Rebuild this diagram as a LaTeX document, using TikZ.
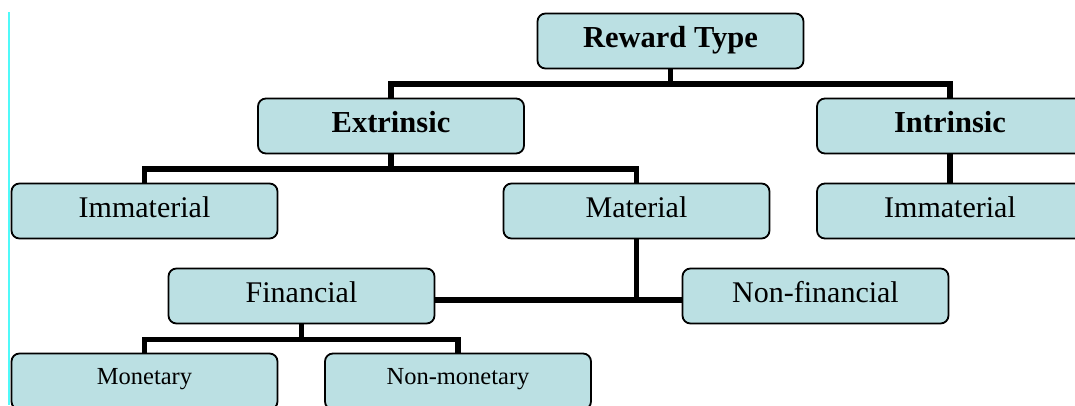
\documentclass[tikz,border=0pt]{standalone}
\usepackage{fontspec}
\setmainfont{Liberation Serif}
\definecolor{boxfill}{RGB}{187,224,227}
\definecolor{guide}{RGB}{80,250,250}
\begin{document}
\begin{tikzpicture}[x=1pt,y=-1pt,
  box/.style={draw=black, line width=1.8pt, fill=boxfill, rounded corners=8pt,
    minimum width=266pt, minimum height=55pt, inner sep=0pt,
    text height=21pt, text depth=8pt, font=\fontsize{30}{36}\selectfont},
  hbox/.style={box, font=\fontsize{30.5}{36}\selectfont\bfseries},
  sbox/.style={box, minimum height=56pt, text height=13pt, text depth=7pt,
    font=\fontsize{24.5}{29}\selectfont},
  conn/.style={line width=5.3pt, line join=miter}]
\useasboundingbox (0,0) rectangle (1075,405);
\clip (0,0) rectangle (1075,405);
\draw[guide, line width=1.5pt] (9,12) -- (9,405);

\node[hbox] (reward) at (670.5,41) {Reward Type};
\node[hbox] (ext) at (391,126) {Extrinsic};
\node[hbox] (intr) at (950,126) {Intrinsic};
\node[box] (immL) at (144.5,211) {Immaterial};
\node[box] (mat) at (636.5,211) {Material};
\node[box] (immR) at (950,211) {Immaterial};
\node[box] (fin) at (301.5,296) {Financial};
\node[box] (nonfin) at (815.5,296) {Non-financial};
\node[sbox] (mon) at (144.5,381.5) {Monetary};
\node[sbox] (nonmon) at (458,381.5) {Non-monetary};

\coordinate (b1) at (670.5,84);
\draw[conn] (reward.south) -- (b1);
\draw[conn] (ext.north) |- (b1) -| (intr.north);
\coordinate (b2) at (391,169);
\draw[conn] (ext.south) -- (b2);
\draw[conn] (immL.north) |- (b2) -| (mat.north);
\draw[conn] (intr.south) -- (immR.north);
\coordinate (b3) at (636.5,300);
\draw[conn] (mat.south) -- (b3);
\draw[conn] (fin.east |- b3) -- (nonfin.west |- b3);
\coordinate (b4) at (301.5,339.5);
\draw[conn] (fin.south) -- (b4);
\draw[conn] (mon.north) |- (b4) -| (nonmon.north);
\end{tikzpicture}
\end{document}
